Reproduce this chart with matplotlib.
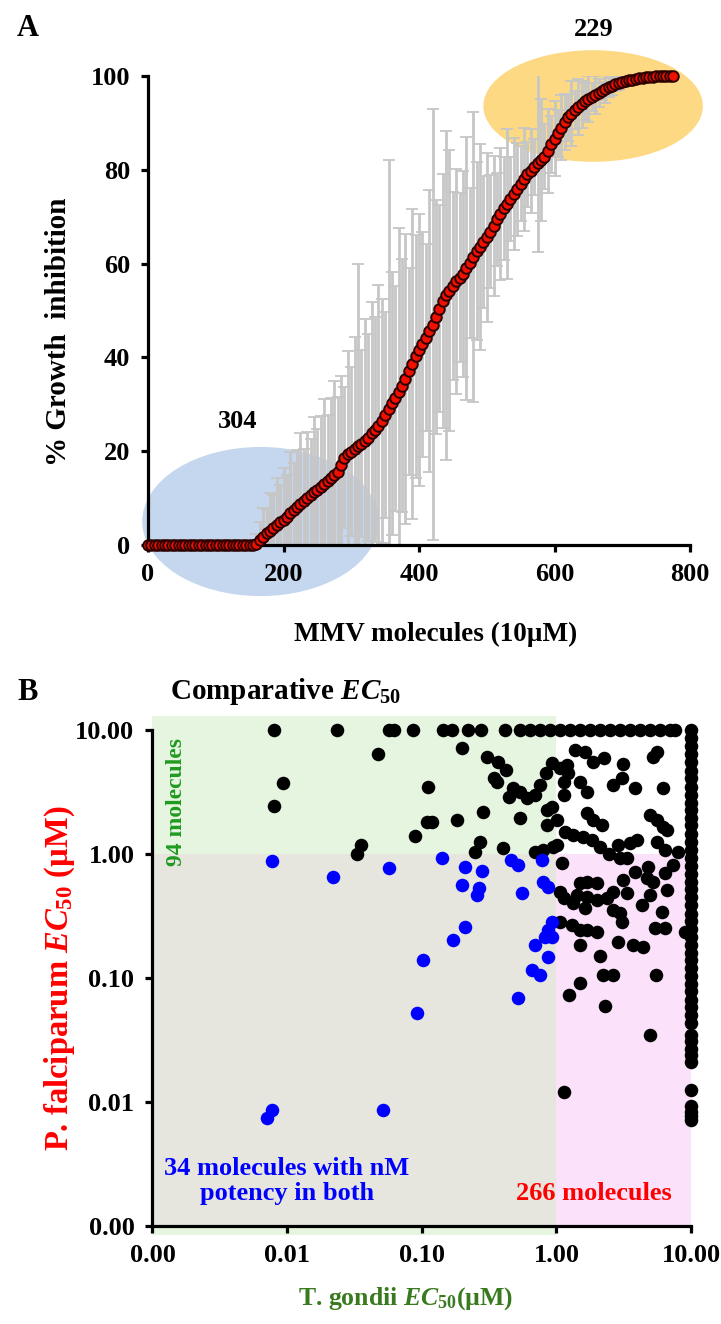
import matplotlib.pyplot as plt
from matplotlib.patches import Ellipse, Rectangle
from matplotlib.ticker import NullLocator
import numpy as np

plt.rcParams['font.family'] = ['Liberation Serif', 'DejaVu Serif']
plt.rcParams['font.weight'] = 'bold'
plt.rcParams['axes.labelweight'] = 'bold'
plt.rcParams['mathtext.fontset'] = 'custom'
plt.rcParams['mathtext.rm'] = 'Liberation Serif:bold'
plt.rcParams['mathtext.it'] = 'Liberation Serif:italic:bold'
plt.rcParams['mathtext.bf'] = 'Liberation Serif:bold'

# ---------------- panel A: sorted % growth inhibition (one value every 5 molecules)
PASO = 5
inhib_cero = [0.0] * 32  # molecules 0..155, no inhibition
inhib_curva = [
    0.3, 1.0, 1.8, 2.5, 3.0, 3.6, 4.2, 4.8, 5.4, 6.0,
    6.8, 7.5, 8.2, 8.8, 9.4, 10.0, 10.6, 11.2, 11.8, 12.4,
    13.1, 13.7, 14.3, 15.0, 15.6, 17.0, 18.6, 19.3, 19.9, 20.4,
    21.0, 21.6, 22.2, 22.9, 23.8, 24.6, 25.4, 26.4, 27.7, 29.0,
    30.2, 31.3, 32.6, 34.0, 35.4, 37.0, 38.6, 40.2, 41.6, 42.8,
    44.2, 45.6, 47.0, 48.6, 50.4, 52.0, 53.2, 54.2, 55.2, 56.2,
    57.0, 57.8, 59.0, 60.2, 61.4, 62.6, 63.6, 64.6, 65.6, 66.8,
    68.0, 69.4, 70.6, 71.8, 72.8, 73.8, 74.8, 75.8, 77.0, 78.0,
    79.0, 79.8, 80.6, 81.4, 82.0, 82.8, 84.0, 85.4, 86.6, 87.8,
    89.0, 90.2, 91.2, 92.0, 92.8, 93.4, 94.0, 94.6, 95.1, 95.6,
    96.0, 96.4, 96.8, 97.2, 97.6, 97.9, 98.2, 98.5, 98.7, 98.9,
    99.1, 99.2, 99.4, 99.5, 99.6, 99.7, 99.8, 99.85, 99.9, 99.95,
    100.0, 100.0, 100.0, 100.0,
]
error_curva = [
    2, 4, 6, 5, 8, 7, 10, 8, 11, 9,
    13, 10, 12, 15, 11, 14, 12, 16, 13, 15,
    18, 14, 17, 20, 16, 19, 15, 22, 18, 24,
    39, 20, 26, 22, 28, 24, 30, 26, 22, 53,
    28, 24, 35, 27, 31, 22, 33, 26, 29, 24,
    20, 30, 46, 25, 22, 27, 35, 30, 20, 24,
    18, 22, 28, 16, 31, 19, 22, 14, 18, 12,
    15, 10, 14, 11, 16, 9, 12, 10, 8, 11,
    7, 9, 6, 19, 13, 7, 9, 6, 8, 5,
    7, 6, 5, 7, 4, 6, 5, 4, 5, 3,
    4, 3, 2, 3, 2, 2, 1.5, 1.5, 1, 1,
    1, 0.8, 0.8, 0.6, 0.5, 0.5, 0.4, 0.3, 0.3, 0.2,
    0.2, 0.1, 0.1, 0.1,
]
inhibicion = inhib_cero + inhib_curva
errores = [0.0] * len(inhib_cero) + error_curva
moleculas = np.arange(len(inhibicion)) * PASO

# ---------------- panel B: EC50 (uM), T. gondii (x) vs P. falciparum (y)
tope_x = [0.0080, 0.0233, 0.0574, 0.0622, 0.0855, 0.145, 0.167, 0.222, 0.274,
          0.416, 0.537, 0.638, 0.757, 0.898, 1.06, 1.26, 1.50, 1.78, 2.11,
          2.51, 2.97, 3.53, 4.19, 4.97, 5.90, 7.00, 7.62]  # Pf EC50 >= 10
col_y = [10, 8.6, 7.4, 6.4, 5.5, 4.7, 4.1, 3.5, 3.0, 2.6, 2.25, 1.95, 1.7,
         1.45, 1.25, 1.08, 0.93, 0.80, 0.69, 0.60, 0.52, 0.45, 0.39, 0.33,
         0.29, 0.25, 0.215, 0.185, 0.16, 0.14, 0.12, 0.104, 0.09, 0.078,
         0.067, 0.058, 0.05, 0.043, 0.035, 0.031, 0.027, 0.024, 0.021,
         0.0126, 0.0093, 0.0083, 0.0077, 0.0071]  # Tg EC50 >= 10
negro_x = [0.0471, 0.0093, 0.0080, 0.0352, 0.0329, 0.0892, 0.112, 0.109,
           0.198, 0.304, 0.371, 0.423, 0.344, 0.360, 0.480, 0.441, 0.537, 0.602,
           0.695, 0.757, 0.838, 0.924, 1.06, 1.19, 1.23, 1.13, 1.14, 1.38, 1.63,
           1.88, 2.24, 1.50, 1.68, 2.65, 3.06, 3.11, 3.84, 5.26, 5.57, 6.24,
           0.847, 0.924, 1.01, 0.847, 1.68, 1.88, 2.17, 1.16, 1.34, 1.59, 1.83,
           2.11, 2.44, 2.89, 2.97, 3.33, 3.53, 3.96, 4.97, 5.57, 6.24, 6.61,
           5.57, 6.42, 8.07, 7.41, 4.83, 3.84, 3.15, 4.69, 5.26, 6.42, 6.61,
           4.97, 4.31, 3.33, 2.65, 2.37, 2.00, 1.68, 2.00, 1.68, 1.50, 1.42,
           1.06, 1.13, 1.34, 1.63, 1.10, 2.65, 2.97, 3.06, 6.07, 5.41, 6.42,
           1.30, 1.50, 1.68, 2.00, 1.50, 2.89, 3.73, 4.43, 2.11, 9.04, 1.01,
           0.951, 0.695, 0.801, 0.404, 0.249, 0.271, 0.287, 0.182, 0.119,
           0.537, 1.06, 2.21, 2.62, 1.50, 1.25, 2.30, 5.51, 4.97, 1.14]
negro_y = [6.37, 3.76, 2.45, 1.18, 1.0, 1.40, 3.49, 1.82,
           7.20, 6.10, 5.55, 4.76, 4.07, 3.83, 3.39, 2.90, 3.18, 2.81,
           2.99, 3.60, 4.47, 5.39, 4.91, 5.22, 4.47, 3.83, 2.99, 6.90, 6.69,
           5.55, 5.91, 3.83, 3.18, 3.60, 4.07, 5.32, 3.43, 6.10, 6.69, 3.43,
           2.27, 2.41, 1.88, 1.71, 2.13, 1.88, 1.71, 1.51, 1.42, 1.38, 1.30,
           1.15, 1.01, 1.18, 0.923, 0.923, 1.22, 1.30, 2.06, 1.88, 1.66, 1.56,
           1.26, 1.08, 1.04, 0.815, 0.790, 0.721, 0.617, 0.637, 0.598, 0.699, 0.513,
           0.467, 0.388, 0.482, 0.497, 0.439, 0.425, 0.453, 0.580, 0.598, 0.580, 0.467,
           0.497, 0.439, 0.400, 0.365, 0.841, 0.353, 0.332, 0.284, 0.343, 0.251, 0.251,
           0.267, 0.244, 0.244, 0.237, 0.184, 0.196, 0.184, 0.177, 0.150, 0.237, 1.18,
           1.15, 1.04, 1.08, 1.11, 1.04, 1.26, 2.19, 1.88, 1.80,
           1.94, 0.284, 0.106, 0.105, 0.092, 0.073, 0.059, 0.105, 0.035, 0.0121]
azul_x = [0.0077, 0.0218, 0.0569, 0.102, 0.0077, 0.0071, 0.0519, 0.656, 0.757,
          0.523, 0.092, 0.141, 0.210, 0.279, 0.198, 0.264, 0.256, 0.458, 0.523,
          0.553, 0.778, 0.801, 0.873, 0.924, 0.873, 0.824, 0.924, 0.695, 0.873,
          0.210, 0.170]
azul_y = [0.883, 0.656, 0.766, 0.140, 0.0086, 0.0074, 0.0087, 0.116, 0.105,
          0.069, 0.052, 0.923, 0.781, 0.730, 0.562, 0.528, 0.467, 0.895, 0.815,
          0.488, 0.895, 0.598, 0.545, 0.285, 0.244, 0.215, 0.215, 0.184, 0.148,
          0.256, 0.202]
TOPE = 10.0

fig = plt.figure(figsize=(7.21, 13.24), dpi=100)

# ================= A
ax = fig.add_axes([0.2053, 0.5884, 0.7517, 0.3542])
ax.add_patch(Ellipse((166, 5), 347, 31.5, color='#c5d7ee', clip_on=False, zorder=0))
ax.add_patch(Ellipse((657, 93.6), 322, 23.5, color='#fdd984', clip_on=False, zorder=0))
ax.errorbar(moleculas, inhibicion, yerr=errores, fmt='none', ecolor='#c6c6c6',
            elinewidth=2.0, capsize=4.5, capthick=1.3, zorder=1)
ax.plot(moleculas, inhibicion, 'o', ms=7.6, mfc='#f01000', mec='#2b0000', mew=1.4,
        clip_on=False, zorder=3)
ax.set_xlim(0, 800)
ax.set_ylim(0, 100)
ax.set_xticks(range(0, 801, 200))
ax.set_yticks(range(0, 101, 20))
for s in ['top', 'right']:
    ax.spines[s].set_visible(False)
for s in ['left', 'bottom']:
    ax.spines[s].set_linewidth(2.3)
ax.tick_params(width=2.3, length=5, labelsize=19, pad=8)
ax.set_xlabel('MMV molecules (10µM)', fontsize=19.5)
ax.xaxis.set_label_coords(0.53, -0.165)
ax.set_ylabel('% Growth  inhibition', fontsize=21)
ax.yaxis.set_label_coords(-0.140, 0.455)
ax.text(658, 110, '229', fontsize=19, ha='center', va='center')
ax.text(133, 26.3, '304', fontsize=19, ha='center', va='center')
fig.text(28 / 721, 1 - 28 / 1324, 'A', fontsize=22, ha='center', va='center')

# ================= B
axb = fig.add_axes([0.2115, 0.0740, 0.7469, 0.3746])
axb.set_xscale('log')
axb.set_yscale('log')
axb.set_xlim(0.001, TOPE)
axb.set_ylim(0.001, TOPE)
axb.add_patch(Rectangle((0.001, 0.00085), 0.999, 12.9 - 0.00085, color='#e5f5df',
                        zorder=0, clip_on=False, lw=0))
axb.add_patch(Rectangle((0.001, 0.001), 0.999, 0.999, color='#e6e6df', zorder=0.2, lw=0))
axb.add_patch(Rectangle((1, 0.001), 9, 0.999, color='#fbe2fa', zorder=0.2, lw=0))

axb.scatter(tope_x, [TOPE] * len(tope_x), s=95, c='black', lw=0, clip_on=False, zorder=3)
axb.scatter([TOPE] * len(col_y), col_y, s=95, c='black', lw=0, clip_on=False, zorder=3)
axb.scatter(negro_x, negro_y, s=95, c='black', lw=0, clip_on=False, zorder=3)
axb.scatter(azul_x, azul_y, s=95, c='#0000ff', lw=0, clip_on=False, zorder=4)

ticks = [0.001, 0.01, 0.1, 1, 10]
axb.set_xticks(ticks)
axb.set_yticks(ticks)
axb.set_xticklabels(['%.2f' % t for t in ticks])
axb.set_yticklabels(['%.2f' % t for t in ticks])
axb.xaxis.set_minor_locator(NullLocator())
axb.yaxis.set_minor_locator(NullLocator())
for s in ['top', 'right']:
    axb.spines[s].set_visible(False)
for s in ['left', 'bottom']:
    axb.spines[s].set_linewidth(2.3)
    axb.spines[s].set_zorder(5)
axb.tick_params(width=2.3, length=5, labelsize=19, pad=8)

axb.set_xlabel(r'T. gondii $EC_{\mathit{50}}$(µM)', fontsize=18.5, color='#3a7a1e')
axb.xaxis.set_label_coords(0.47, -0.12)
axb.set_ylabel(r'P. falciparum $EC_{\mathit{50}}$ (µM)', fontsize=23.5, color='#ff0000')
axb.yaxis.set_label_coords(-0.14, 0.5)
axb.text(0.0325, 1.077, r'Comparative $EC_{50}$', transform=axb.transAxes,
         fontsize=21, ha='left', va='center')
axb.text(0.045, 0.855, '94 molecules', transform=axb.transAxes, rotation=90,
         fontsize=17, color='#1f9a1f', ha='center', va='center')
axb.text(0.25, 0.0907, '34 molecules with nM\npotency in both', transform=axb.transAxes,
         fontsize=19, color='#0000ff', ha='center', va='center', linespacing=1.15)
axb.text(0.82, 0.0665, '266 molecules', transform=axb.transAxes,
         fontsize=19, color='#ff0000', ha='center', va='center')
fig.text(28 / 721, 1 - 692 / 1324, 'B', fontsize=22, ha='center', va='center')

fig.savefig('out.png', dpi=100)
